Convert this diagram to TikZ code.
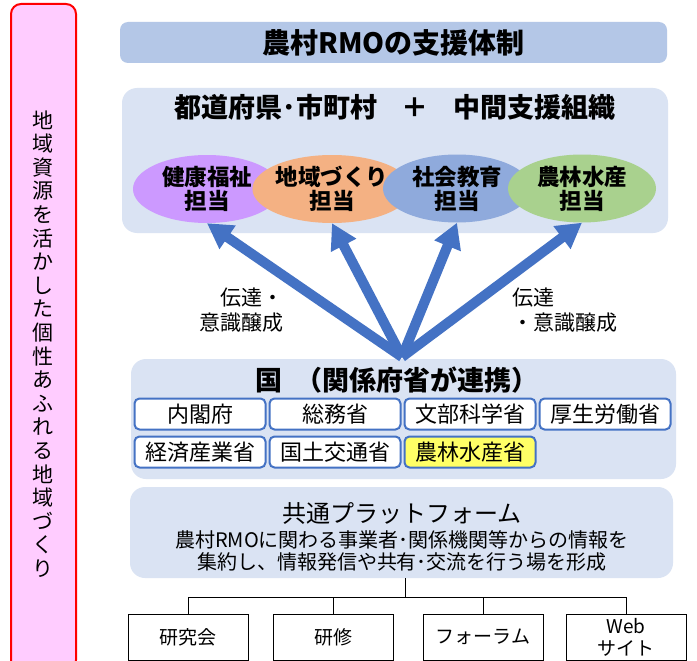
\documentclass[tikz,border=0pt]{standalone}
\usepackage{fontspec}
\setmainfont{Noto Sans CJK JP}
\usetikzlibrary{arrows.meta,shapes.geometric}
\definecolor{cTitle}{HTML}{B4C7E7}
\definecolor{cPanel}{HTML}{DAE3F3}
\definecolor{cBlue}{HTML}{4472C4}
\definecolor{cPurple}{HTML}{CC99FF}
\definecolor{cSalmon}{HTML}{F4B183}
\definecolor{cSky}{HTML}{8FAADC}
\definecolor{cGreen}{HTML}{A9D18E}
\definecolor{cYellow}{HTML}{FFFF66}
\definecolor{cPink}{HTML}{FFCCFF}
\newcommand\myfs[2]{\fontsize{#1}{#2}\selectfont}
\begin{document}
\begin{tikzpicture}[x=1pt,y=-1pt,
  titlebar/.style={fill=cTitle, rounded corners=8pt, minimum width=547pt, minimum height=41pt, inner sep=0pt, font=\bfseries\myfs{28}{30}},
  panel/.style={fill=cPanel, rounded corners=15pt, inner sep=0pt},
  oval/.style={ellipse, minimum width=148pt, minimum height=68pt, inner sep=0pt, font=\bfseries\myfs{22.5}{24}, align=center},
  ministry/.style={draw=cBlue, line width=2pt, fill=white, rounded corners=5pt, minimum width=131pt, minimum height=31pt, inner sep=0pt, font=\myfs{22}{24}},
  leaf/.style={draw=black, line width=1pt, fill=white, minimum width=120pt, minimum height=46pt, inner sep=0pt, font=\myfs{19}{22}, align=center},
  bigarrow/.style={draw=cBlue, line width=10pt, -{Triangle[width=27pt,length=25pt]}},
  lbl/.style={font=\myfs{21}{25}, inner sep=0pt},
  heading/.style={font=\bfseries\myfs{27}{30}, inner sep=0pt},
  tree/.style={draw=black, line width=1pt}
]
\clip (0,0) rectangle (697,661);
\fill[white] (0,0) rectangle (697,661);

% left vertical banner
\node[draw=red, line width=2pt, fill=cPink, rounded corners=10pt, minimum width=65pt, minimum height=666pt, inner sep=0pt] (banner) at (43.5,337) {};
\node[font=\myfs{21}{23.6}, align=center, inner sep=0pt] (bannertext) at (43,344)
 {地\\域\\資\\源\\を\\活\\か\\し\\た\\個\\性\\あ\\ふ\\れ\\る\\地\\域\\づ\\く\\り};

% title
\node[titlebar] (title) at (393.5,42.5) {農村RMOの支援体制};

% prefecture panel
\node[panel, minimum width=546pt, minimum height=145pt] (pref) at (395,160.5) {};
\node[heading] (preftitle) at (395,107) {都道府県･市町村\hspace{0.9em}＋\hspace{0.9em}中間支援組織};
\node[oval, fill=cPurple] (e1) at (207,189) {健康福祉\\担当};
\node[oval, fill=cSalmon] (e2) at (332,189) {地域づくり\\担当};
\node[oval, fill=cSky] (e3) at (457,188.5) {社会教育\\担当};
\node[oval, fill=cGreen] (e4) at (582,188.5) {農林水産\\担当};

% government panel
\node[panel, minimum width=545pt, minimum height=120pt] (gov) at (403.5,419) {};
\node[heading] (govtitle) at (397,380) {国\hspace{0.45em}（関係府省が連携）};
\node[ministry] (m1) at (200,414) {内閣府};
\node[ministry] (m2) at (335,414) {総務省};
\node[ministry] (m3) at (470,414) {文部科学省};
\node[ministry] (m4) at (605,414) {厚生労働省};
\node[ministry] (m5) at (200,452) {経済産業省};
\node[ministry] (m6) at (335,452) {国土交通省};
\node[ministry, fill=cYellow] (m7) at (470,452) {農林水産省};

% arrows
\coordinate (hub) at (402,357);
\draw[bigarrow] (hub) -- (e1.south);
\draw[bigarrow] (hub) -- (e2.south);
\draw[bigarrow] (hub) -- (e3.south);
\draw[bigarrow] (hub) -- (e4.south);
\node[lbl, align=right, anchor=east] (lblL) at (284,310) {伝達・\\意識醸成};
\node[lbl, align=left, anchor=west] (lblR) at (512,310) {伝達\\・意識醸成};

% platform
\node[panel, minimum width=543pt, minimum height=91pt] (plat) at (401.5,532.5) {};
\node[font=\myfs{24}{26}, inner sep=0pt] (plattitle) at (402,513) {共通プラットフォーム};
\node[font=\myfs{20}{21.5}, align=center, inner sep=0pt] (platbody) at (402,551)
 {農村RMOに関わる事業者･関係機関等からの情報を\\集約し、情報発信や共有･交流を行う場を形成};

% tree
\node[leaf] (l1) at (188,637) {研究会};
\node[leaf] (l2) at (333,637) {研修};
\node[leaf] (l3) at (483,637) {フォーラム};
\node[leaf] (l4) at (626,637) {Web\\サイト};
\coordinate (bus) at (405,597);
\draw[tree] (plat.south -| bus) -- (bus);
\draw[tree] (l1.north) -- (l1.north |- bus) -- (l4.north |- bus) -- (l4.north);
\draw[tree] (l2.north) -- (l2.north |- bus);
\draw[tree] (l3.north) -- (l3.north |- bus);
\end{tikzpicture}
\end{document}
